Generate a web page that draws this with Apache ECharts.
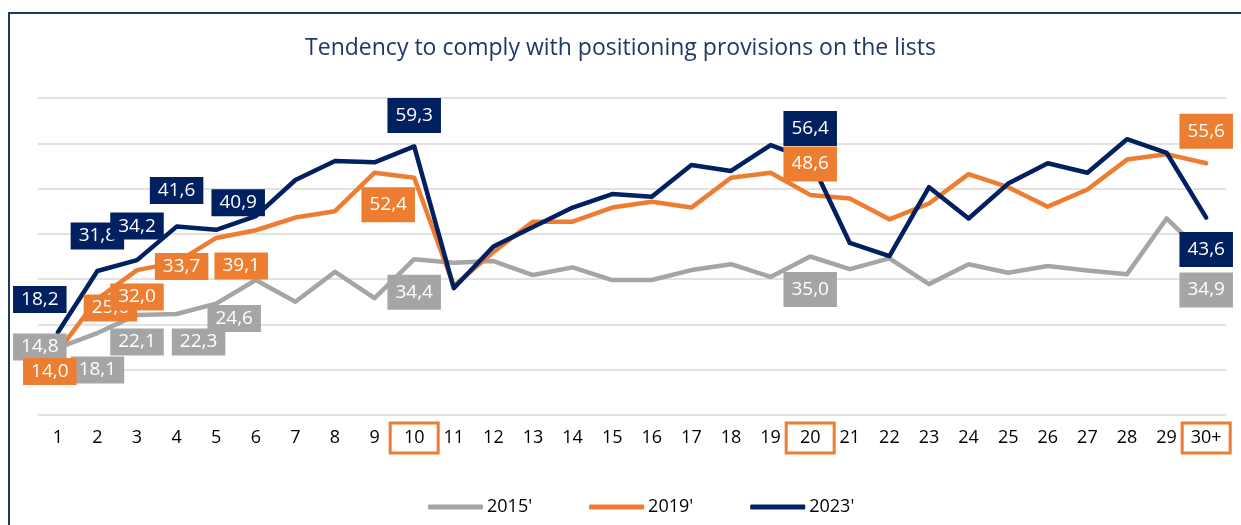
<!DOCTYPE html>
<html>
<head>
<meta charset="utf-8">
<script src="https://cdn.jsdelivr.net/npm/echarts@6/dist/echarts.min.js"></script>
<style>
  html, body { margin: 0; padding: 0; background: #ffffff; }
  #chart { width: 1241px; height: 525px; }
</style>
</head>
<body>
<div id="chart"></div>
<script>
// Position on the list (1 … 29, then 30 and beyond)
const categories = ['1','2','3','4','5','6','7','8','9','10','11','12','13','14','15',
  '16','17','18','19','20','21','22','23','24','25','26','27','28','29','30+'];

// Share complying with the positioning provisions, per election year
const values2015 = [14.8, 18.1, 22.1, 22.3, 24.6, 29.8, 25.0, 31.6, 25.8, 34.4,
  33.6, 34.0, 30.9, 32.6, 29.8, 29.8, 32.0, 33.3, 30.5, 35.0,
  32.2, 34.6, 28.9, 33.3, 31.4, 32.9, 31.9, 31.1, 43.4, 34.9];
const values2019 = [14.0, 25.6, 32.0, 33.7, 39.1, 40.8, 43.6, 45.0, 53.5, 52.4,
  28.5, 36.0, 42.7, 42.7, 45.8, 47.1, 45.8, 52.4, 53.5, 48.6,
  47.8, 43.2, 46.7, 53.2, 50.3, 46.0, 49.8, 56.4, 57.6, 55.6];
const values2023 = [18.2, 31.8, 34.2, 41.6, 40.9, 43.9, 51.9, 56.1, 55.8, 59.3,
  28.0, 37.2, 41.5, 45.8, 48.8, 48.2, 55.2, 53.9, 59.6, 56.4,
  38.0, 35.1, 50.3, 43.4, 51.1, 55.6, 53.5, 60.9, 57.9, 43.6];

// Positions marked with a box on the axis
const highlighted = ['10', '20', '30+'];

const COLORS = { '2015': '#A5A5A5', '2019': '#ED7D31', '2023': '#002060' };
const FONT = 'Open Sans';

// Value-label placement: [index, dx, dy, box size]
const labelPlacement = {
  '2015': [[0, -18, -1, 's'], [1, 0, 37, 's'], [2, 0, 27, 's'], [3, 22, 28, 's'], [4, 18, 15, 's'],
           [9, 0, 33, 'l'], [19, 0, 33, 'l'], [29, 0, 33, 'l']],
  '2019': [[0, -8, 20, 's'], [1, 13, 9, 's'], [2, 0, 27, 's'], [3, 5, 4, 's'], [4, 25, 28, 's'],
           [9, -26, 27, 'l'], [19, 0, -31, 'l'], [29, 0, -32, 'l']],
  '2023': [[0, -18, -33, 's'], [1, 0, -35, 's'], [2, 0, -34, 's'], [3, 0, -36, 's'], [4, 22, -27, 's'],
           [9, 0, -31, 'l'], [19, 0, -31, 'l'], [29, 0, 32, 'l']]
};

function fmt(v) { return v.toFixed(1).replace('.', ','); }

function buildData(values, year) {
  const placed = {};
  labelPlacement[year].forEach(p => { placed[p[0]] = p; });
  return values.map((v, i) => {
    const p = placed[i];
    if (!p) return { value: v };
    return {
      value: v,
      label: {
        show: true,
        position: 'inside',
        offset: [p[1], p[2]],
        formatter: (d) => fmt(d.value),
        color: '#ffffff',
        fontFamily: FONT,
        fontSize: 19,
        lineHeight: 19,
        backgroundColor: COLORS[year],
        padding: p[3] === 'l' ? [8, 8] : [4, 8]
      }
    };
  });
}

function lineSeries(name, values, year) {
  return {
    name: name,
    type: 'line',
    data: buildData(values, year),
    symbol: 'circle',
    symbolSize: 0,
    showSymbol: true,
    showAllSymbol: true,
    silent: true,
    emphasis: { disabled: true },
    lineStyle: { color: COLORS[year], width: 4.5, cap: 'round', join: 'round' },
    itemStyle: { color: COLORS[year] },
    label: { show: false }
  };
}

const chart = echarts.init(document.getElementById('chart'), null, { renderer: 'canvas' });

const axisRich = {
  box: {
    fontFamily: FONT, fontSize: 18, lineHeight: 18, color: '#000000',
    width: 44, align: 'center',
    padding: [6, 2], borderColor: '#ED7D31', borderWidth: 3
  },
  n: {
    fontFamily: FONT, fontSize: 18, lineHeight: 18, color: '#000000',
    padding: [6, 0]
  }
};

chart.setOption({
  animation: false,
  backgroundColor: '#ffffff',
  title: {
    text: 'Tendency to comply with positioning provisions on the lists',
    left: 'center',
    top: 32,
    textStyle: { fontFamily: FONT, fontSize: 23, fontWeight: 'normal', color: '#1F3864' }
  },
  legend: {
    data: ["2015'", "2019'", "2023'"],
    left: 423,
    top: 493,
    icon: 'roundRect',
    itemWidth: 55,
    itemHeight: 5,
    itemGap: 57,
    selectedMode: false,
    textStyle: { fontFamily: FONT, fontSize: 18, color: '#000000', padding: [0, 0, 0, -1] }
  },
  grid: { left: 38, right: 15, top: 98, bottom: 110, containLabel: false },
  xAxis: {
    type: 'category',
    data: categories,
    boundaryGap: true,
    axisLine: { show: false },
    axisTick: { show: false },
    axisLabel: {
      interval: 0,
      margin: 14,
      formatter: (v) => highlighted.includes(v) ? '{box|' + v + '}' : '{n|' + v + '}',
      rich: axisRich
    }
  },
  yAxis: {
    type: 'value',
    min: 0,
    max: 70,
    interval: 10,
    axisLabel: { show: false },
    axisLine: { show: false },
    axisTick: { show: false },
    splitLine: { lineStyle: { color: '#D9D9D9', width: 1.5 } }
  },
  series: [
    lineSeries("2015'", values2015, '2015'),
    lineSeries("2019'", values2019, '2019'),
    lineSeries("2023'", values2023, '2023')
  ],
  graphic: [{
    type: 'rect',
    silent: true,
    shape: { x: 9, y: 13, width: 1300, height: 600 },
    style: { fill: 'none', stroke: '#1F3864', lineWidth: 2 }
  }]
});
</script>
</body>
</html>
